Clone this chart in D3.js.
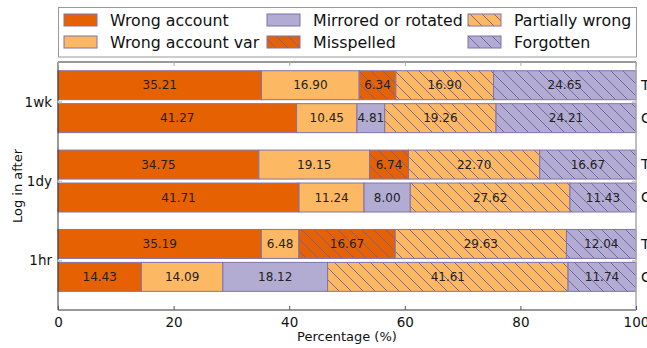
<!DOCTYPE html>
<html><head><meta charset="utf-8">
<script src="https://cdn.jsdelivr.net/npm/d3@7"></script>
<style>body{margin:0;background:#fff;} svg{display:block;font-family:"DejaVu Sans",sans-serif;}</style>
</head><body>
<svg id="c" width="647" height="348"></svg>
<script>
const groups = ["1wk","1dy","1hr"];
const subRows = ["T","C"];
const categories = ["Wrong account","Wrong account var","Mirrored or rotated","Misspelled","Partially wrong","Forgotten"];
const colors = ["#e66101","#fdb863","#b2abd2","#e66101","#fdb863","#b2abd2"];
const hatched = [false,false,false,true,true,true];
const v1wkT = [35.21,16.90,0,6.34,16.90,24.65];
const v1wkC = [41.27,10.45,4.81,0,19.26,24.21];
const v1dyT = [34.75,19.15,0,6.74,22.70,16.67];
const v1dyC = [41.71,11.24,8.00,0,27.62,11.43];
const v1hrT = [35.19,6.48,0,16.67,29.63,12.04];
const v1hrC = [14.43,14.09,18.12,0,41.61,11.74];
const xTicks = [0,20,40,60,80,100];

const rows = [
  {g:"1wk",s:"T",v:v1wkT},{g:"1wk",s:"C",v:v1wkC},
  {g:"1dy",s:"T",v:v1dyT},{g:"1dy",s:"C",v:v1dyC},
  {g:"1hr",s:"T",v:v1hrT},{g:"1hr",s:"C",v:v1hrC}
];
const gpos = {"1hr":0,"1dy":1,"1wk":2};

const L=58,R=636,T=62,B=310;
const svg = d3.select("#c");
const x = d3.scaleLinear().domain([0,100]).range([L,R]);
const y = d3.scaleLinear().domain([-0.625,2.5]).range([B,T]);
const edge="#8073ac", hatchCol="#6f5fa8";

const defs = svg.append("defs");
colors.forEach((c,i)=>{
  if(!hatched[i]) return;
  const p = defs.append("pattern").attr("id","h"+i).attr("patternUnits","userSpaceOnUse")
    .attr("width",12).attr("height",12);
  p.append("rect").attr("width",12).attr("height",12).attr("fill",c);
  p.append("path").attr("d","M-3,-3L15,15M-3,9L3,15M9,-3L15,3")
    .attr("stroke",hatchCol).attr("stroke-width",0.9);
});
const fillOf = i => hatched[i] ? `url(#h${i})` : colors[i];

const barH = 0.365, off = 0.025;
rows.forEach(r=>{
  const c = gpos[r.g];
  const y0 = r.s==="T" ? c+off+barH : c-off;
  const y1 = y0 - barH;
  let acc = 0;
  r.v.forEach((val,i)=>{
    const a = acc; acc += val;
    if(val<=0) return;
    svg.append("rect").attr("x",x(a)).attr("y",y(y0)).attr("width",x(acc)-x(a)).attr("height",y(y1)-y(y0))
      .attr("fill",fillOf(i)).attr("stroke",edge).attr("stroke-width",1);
    svg.append("text").attr("x",(x(a)+x(acc))/2).attr("y",(y(y0)+y(y1))/2).attr("dy","0.35em")
      .attr("text-anchor","middle").attr("font-size",12).attr("fill","#222").text(val.toFixed(2));
  });
  svg.append("text").attr("x",641).attr("y",(y(y0)+y(y1))/2).attr("dy","0.35em")
    .attr("font-size",14).attr("fill","#111").text(r.s);
});

// spines
svg.append("line").attr("x1",L).attr("x2",R).attr("y1",T).attr("y2",T).attr("stroke","#333");
svg.append("line").attr("x1",L).attr("x2",R).attr("y1",B).attr("y2",B).attr("stroke","#333");
svg.append("line").attr("x1",L).attr("x2",L).attr("y1",T).attr("y2",B).attr("stroke","#333");
svg.append("line").attr("x1",R).attr("x2",R).attr("y1",T).attr("y2",B).attr("stroke","#aaa").attr("stroke-width",1.5);

// x axis
const xa = svg.append("g").attr("transform",`translate(0,${B})`)
  .call(d3.axisBottom(x).tickValues(xTicks).tickSize(-4).tickPadding(7).tickFormat(d3.format("d")));
xa.select(".domain").remove();
xa.selectAll("text").attr("font-size",13.5).attr("fill","#111").attr("font-family","DejaVu Sans");
xa.selectAll("line").attr("stroke","#555");
const xt = svg.append("g").attr("transform",`translate(0,${T})`)
  .call(d3.axisTop(x).tickValues(xTicks).tickSize(-4).tickFormat(""));
xt.select(".domain").remove(); xt.selectAll("line").attr("stroke","#aaa");

// y axis
const ya = svg.append("g").attr("transform",`translate(${L},0)`)
  .call(d3.axisLeft(y).tickValues(groups.map(g=>gpos[g])).tickSize(-4).tickPadding(6).tickFormat(d=>groups.find(g=>gpos[g]===d)));
ya.select(".domain").remove();
ya.selectAll("text").attr("font-size",13.5).attr("fill","#111").attr("font-family","DejaVu Sans");
ya.selectAll("line").attr("stroke","#ccc").attr("stroke-width",2);
const yr = svg.append("g").attr("transform",`translate(${R},0)`)
  .call(d3.axisRight(y).tickValues(groups.map(g=>gpos[g])).tickSize(-4).tickFormat(""));
yr.select(".domain").remove(); yr.selectAll("line").attr("stroke","#ccc").attr("stroke-width",2);

svg.append("text").attr("x",347).attr("y",341).attr("text-anchor","middle").attr("font-size",13).attr("fill","#111").text("Percentage (%)");
svg.append("text").attr("transform",`translate(22,${(T+B)/2}) rotate(-90)`).attr("text-anchor","middle").attr("font-size",13).attr("fill","#111").text("Log in after");

// legend
svg.append("rect").attr("x",58.5).attr("y",7.5).attr("width",578).attr("height",49.5).attr("fill","#fff").attr("stroke","#999");
const colX = [64,267,468], rowY=[20,42];
categories.forEach((cat,i)=>{
  const col = Math.floor(i/2), row = i%2;
  svg.append("rect").attr("x",colX[col]).attr("y",rowY[row]-6).attr("width",33).attr("height",12)
    .attr("fill",fillOf(i)).attr("stroke",edge).attr("stroke-width",1);
  svg.append("text").attr("x",colX[col]+46).attr("y",rowY[row]).attr("dy","0.35em")
    .attr("font-size",15.8).attr("fill","#111").text(cat);
});
</script>
</body></html>
